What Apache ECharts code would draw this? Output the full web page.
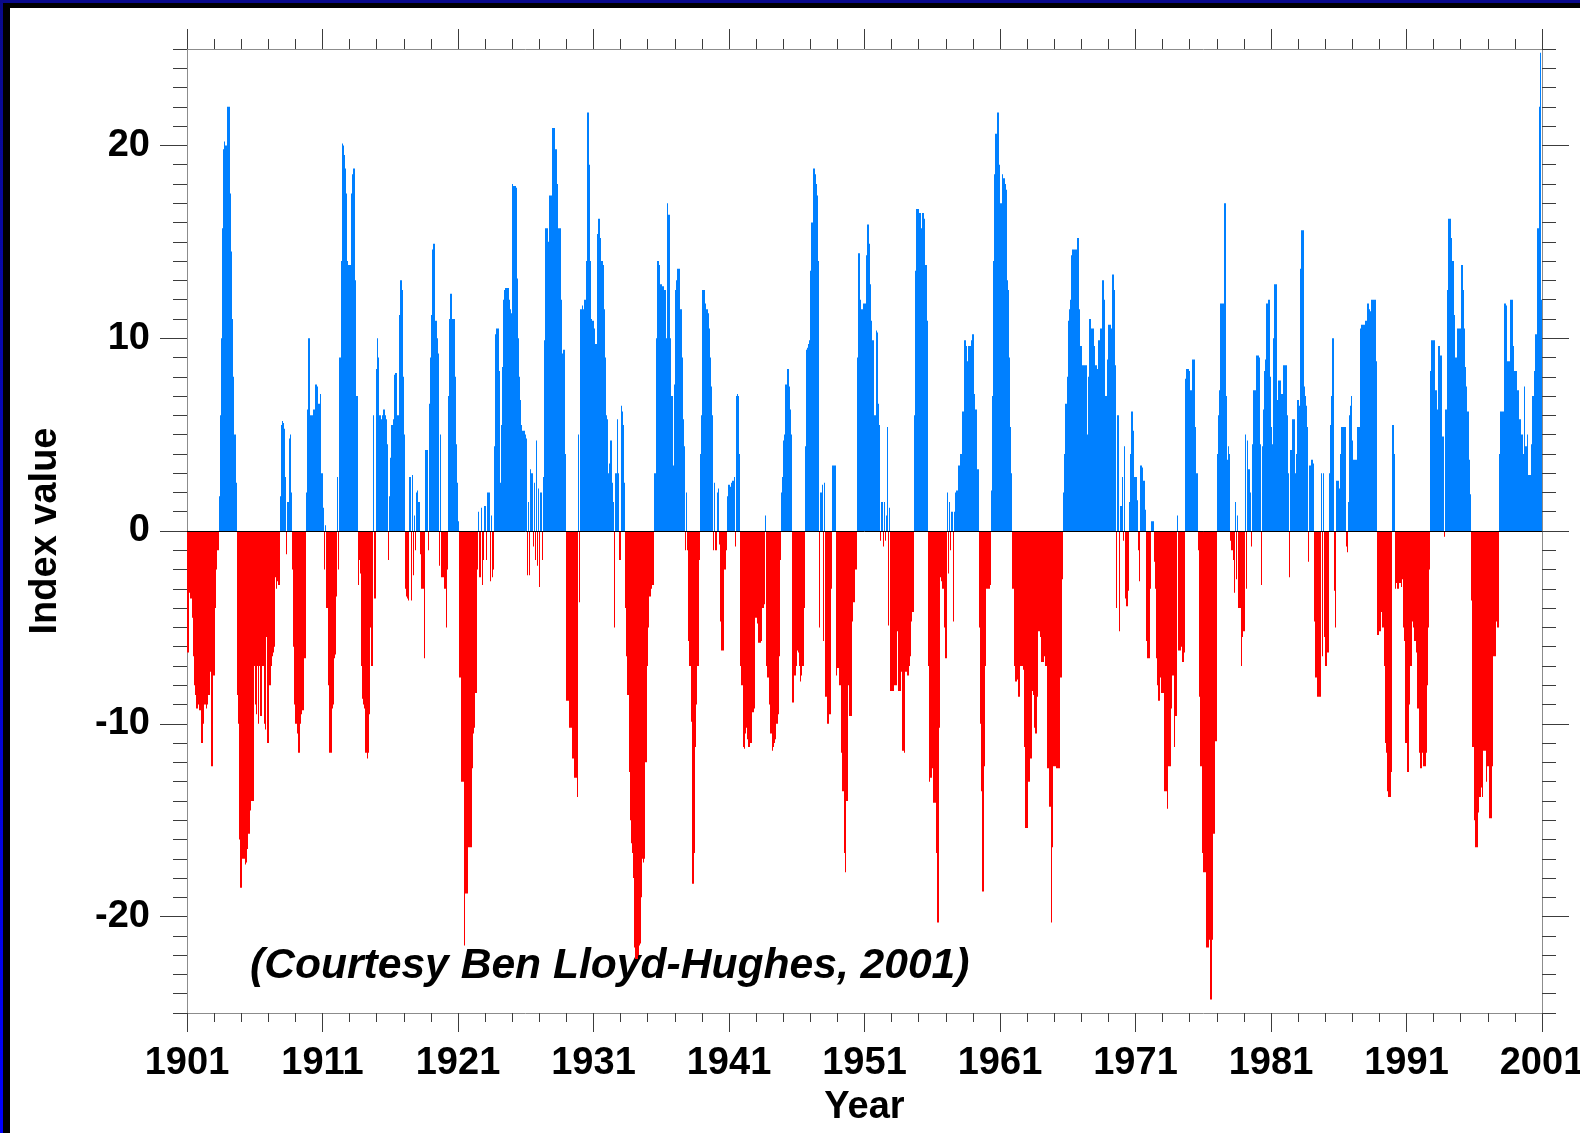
<!DOCTYPE html>
<html>
<head>
<meta charset="utf-8">
<title>Index value 1901-2000</title>
<script src="https://cdn.jsdelivr.net/npm/echarts@6/dist/echarts.min.js"></script>
<style>
  html, body { margin: 0; padding: 0; background: #fff; }
  #chart { width: 1580px; height: 1133px; }
</style>
</head>
<body>
<div id="chart"></div>
<script>
// Monthly index values, one row per year (Jan..Dec).
const v1901_1910 = [
  -6.3, -6.3, -3.2, -3.5, -4.5, -6.5, -8, -8.5, -9.2, -9.2, -9.0, -9.3,
  -11, -11, -10, -9, -9, -9.2, -9, -8.5, -7.3, -12.2, -12.2, -7.5,
  -7.5, -4, -2, -1, 1.8, 6, 10, 15.7, 19.8, 20.2, 20, 22,
  22, 22, 17.5, 14.5, 11, 8, 5, 2.5, -8.5, -10, -16, -18.5,
  -18.5, -17, -17, -17.3, -17.2, -16.5, -15.7, -15.7, -14.5, -14, -14, -7,
  -9, -9.5, -7, -10, -7, -9.6, -7, -7, -10, -10.3, -5.5, -11,
  -11, -8, -7, -6.5, -6.3, -6, -2.4, -3, -2.6, -2.8, 1.8, 5.5,
  5.7, 5.6, 5.3, 2.8, -1.2, 1.5, 4.8, 5, 2, -2, -6, -9,
  -10, -10.5, -11.5, -11.5, -10, -9.5, -9.3, -9.3, -6.6, 2, 6.3, 10,
  10, 6, 6, 6, 6.3, 7.6, 7.6, 7.5, 6.6, 6.6, 7.1, 3
];
const v1911_1920 = [
  1.2, -2, 0.3, -4, -4, -8, -11.5, -11.5, -9.2, -9, -6.6, -6.4,
  -3.4, 2.8, -2, 9, 14, 20.1, 20, 19.5, 18.8, 17.5, 14, 13.8,
  13.8, 17.5, 18.5, 18.8, 18.8, 13, 7, -2.8, -1.5, -2.2, -7, -8.7,
  -9, -9.2, -11.5, -11.8, -11.5, -9.5, -5, -7, -7, 6, -3.5, 8.4,
  10, 9, 6, 6, 5.8, 6, 6.3, 6, 5.8, 4.5, -1.5, 1.8,
  3.8, 5.5, 5.8, 8.1, 8.2, 8.2, 6, 6, 11.2, 13, 12.5, 8,
  5, -3, -3.4, -3.5, -3.6, 2.8, -3.6, 2.9, -2.3, 0.8, -1, 2,
  2.1, 1.5, -1.2, -3, -3, -3, -6.6, 4.2, 4.2, -1, 6.6, 9,
  11.2, 14.6, 14.9, 14.9, 10.9, 10, 9.2, -1.8, 5, -2.4, -2.4, -2.4,
  -3, -5, -2, 7, 11, 12.3, 12.3, 11, 11, 8, 4.5, 2.5
];
const v1921_1930 = [
  0.5, -7.6, -7.6, -13, -13, -21.5, -18.8, -18.8, -18.8, -16.4, -16.4, -16.4,
  -12.3, -10.5, -10.2, -8.4, -8.4, -2, 1, -2.4, 1.2, -2.8, -1.5, 1.3,
  1.3, -1.5, 2, 2, -2.6, 0.8, -2.4, -2, 4.4, 10.2, 10.5, 10.5,
  8.3, 2.5, 5.5, 8.5, 12, 12.5, 12.6, 12.6, 12.6, 12, 11.5, 11.3,
  18, 17.9, 17.9, 17.8, 13.1, 10, 8, 6.8, 5.5, 5.2, 5.2, 5,
  4.8, -2.3, 1.5, -2.3, 3.2, 3, -0.8, 2.5, -1.5, 4.7, -1.8, 2.2,
  -2.9, 2, -1.5, 2.8, 9.9, 15.7, 15.7, 15.7, 15, 17.4, 17.4, 20.9,
  20.9, 20.9, 19.8, 19.8, 18, 15.7, 15.7, 12, 9.2, 9.4, 9.4, 4,
  -8.8, -8.8, -10.2, -10.2, -10.2, -11.8, -11.8, -12.8, -12.8, -13.8, 5, -3.7,
  11.5, 11.5, 11.7, 11.5, 12, 14, 21.7, 21.7, 19, 14, 11, 10.9
];
const v1931_1940 = [
  10.5, 9.7, 9.7, 15.4, 16.2, 16.2, 15.2, 14, 13.8, 11.5, 9, 6,
  5.8, 3, 3.5, 4.7, 2.5, 1.5, -5, 3, 3, 5.8, 3, -1.5,
  6.5, 6.2, 5.5, 2.5, -4, -6.5, -8.5, -12.5, -15, -16.2, -16.7, -18,
  -21.6, -22.2, -22.2, -22, -21.5, -21.4, -19, -17, -17.2, -17, -12, -7,
  -5, -3.4, -3.4, -3, -2.8, -2.8, 3, 10, 14, 14, 13.8, 12.8,
  12.8, 12.7, 12.5, 12.5, 10, 17, 16.4, 16.4, 10, 7, 3.4, 7.6,
  12.5, 13, 13.6, 13.6, 13.6, 11.5, 9, 5.8, 4.4, -1, 2, -1,
  -5.7, -7, -9.9, -18.3, -18.3, -16.7, -11.2, -9, -7, -1.5, 4, 6,
  12.5, 12.5, 12.5, 11.8, 11.5, 11.3, 10.5, 9, 7.5, 6, -1, 2.5,
  -1, 2, 2.2, -0.7, -4.7, -6.2, -6.2, -6.2, -2, -1, 1.8, 2.4
];
const v1941_1950 = [
  2.4, 2.3, 2.5, 2.6, 2.8, -0.8, 7, 7.1, 7, 4, -7, -8,
  -11.2, -11.3, -10.5, -10.2, -10.8, -11.2, -11.2, -11, -9.4, -9.4, -9.2, -4.5,
  -4.5, -4.8, -5.8, -5.8, -5.7, -4, -4, -3.8, 0.8, -7, -7.6, -9,
  -10.5, -10.5, -11.4, -11.2, -11, -10.8, -10, -9.5, -6.5, -1.5, 2, 2.8,
  4.7, 5, 7.6, 8.4, 8.4, 7.5, 6.3, 5, -8.9, -8.9, -7.5, -7,
  -6.2, -6.3, -7, -7.8, -7.5, -7, -4, 4.4, 9.4, 9.5, 9.7, 9.9,
  13.5, 16, 18.8, 18.8, 18.5, 18, 17.4, 14, -5, 2, 2.4, -5.7,
  2.5, -8.6, -8.6, -10, -10, -9.5, -3, 3.4, 3.4, 3.4, 3.4, -7.5,
  -7.1, -8, -8, -11.5, -13.5, -13.5, -16.7, -17.7, -14, -8, -9.6, -9.6,
  -9.6, -4.7, -3.7, -3.7, -2, 9, 14.4, 14.4, 12, 11.5, 11.5, 11.8
];
const v1951_1960 = [
  11.8, 14.3, 15.9, 15.9, 14.9, 12.8, 10.9, 9.9, 6, 6, 10.4, 10.3,
  6.6, 5.5, -0.5, 1.5, -0.8, 1.5, -0.5, 0.8, 5.4, -4.9, 1.2, -8.3,
  -8.3, -8.3, -8, -8, -8, -5.2, -8.3, -8.3, -7.3, -11.4, -11.4, -11.5,
  -7.3, -7.3, -7.5, -7, -6.5, -4.7, -4.2, -4.2, 6, 13.5, 16.7, 16.7,
  16.5, 16.5, 15.7, 16.5, 16.5, 16.2, 13.8, 10.9, -7, -13, -12.8, -12.8,
  -12.3, -14.1, -14.1, -16.7, -20.3, -20.3, -10.2, -2.4, -2.6, -3, -5, -6.6,
  -6.6, 2, -2.2, 1.5, -1, 1, -4.7, 1, 2, 2.1, 2.1, 3.4,
  3.4, 4, 6.2, 6.2, 9.9, 9.9, 9.6, 8.8, 9.6, 9.6, 9.9, 10.2,
  10.2, 7.1, 6.3, 6.3, 3.2, -5, -10, -13.5, -18.7, -18.7, -12.2, -7,
  -3, -3, -3, -2.8, 2.1, 7, 14, 18.5, 20.6, 21.7, 21.7, 19
];
const v1961_1970 = [
  17, 17, 18.5, 18.3, 18, 17.7, 13, 12.5, 9, 5.4, 3, -3,
  -7, -7.8, -7.8, -7.7, -8.6, -8.6, -7, -7, -7.2, -11.2, -15.4, -15.4,
  -15.4, -13, -13, -11.8, -8.3, -8.5, -10.2, -10.5, -10.5, -8.6, -5.2, -5.5,
  -6.8, -6.8, -6.8, -6.5, -7, -7, -12.3, -14.3, -14.3, -20.3, -16.4, -12.2,
  -12.2, -12.2, -12.3, -12.3, -12.3, -7.6, -7.6, -2.5, 2, 4, 6.6, 8,
  10.9, 11.5, 12, 14.3, 14.6, 14.6, 14.6, 14.6, 15.2, 15.2, 11.5, 9.6,
  9.6, 8.6, 8.6, 8.6, 8.6, 5, 8, 11, 11, 10.5, 10.5, 9.6,
  8.6, 8.6, 8.4, 9.9, 9.9, 10.5, 13, 13, 12, 7, 7, 8.9,
  10.7, 10.7, 10.5, 13.3, 13.3, 12.5, 8.6, -4, 6, -5.2, 1.3, 1.3,
  2.8, -0.5, 4.4, -3.5, -3.9, -3.1, 1.5, 4, 6.2, 6.2, 5.2, 2.8
];
const v1971_1980 = [
  2.8, 1.6, -1, -2.6, 3.4, 3.4, 3.3, 2.6, 1.1, -5.7, -6.6, -6.6,
  -6.6, -3, 0.5, 0.5, -1.6, -3, -6.6, -8, -8.8, -8.8, -7.6, -8.4,
  -8.4, -13.5, -13.5, -13.5, -14.4, -12.2, -12.2, -9.2, -7.5, -7.5, -11.2, -9.6,
  -9.6, 0.8, -6.2, -6.2, -6, -6.8, -6.8, -6.3, 7.9, 8.4, 8.4, 8.3,
  7.3, 7.3, 8.9, 8.9, 8.9, 5.4, 3, -1, -8.6, -12.2, -12.2, -16.7,
  -17.7, -17.7, -21.6, -21.6, -21.6, -21.2, -24.3, -24.3, -21.2, -15.7, -10.9, -10.9,
  4, 6, 7.3, 11.8, 11.8, 11.8, 17, 17, 7, 3.7, 4.4, 4,
  -0.5, -1, -1.5, -3.2, 1.5, -2.5, 0.8, -4, -4, -7, -5.5, -5.2,
  -5.2, 5, -3, 4.7, 3.2, 2, -0.8, 4.5, 7.3, 7.3, 7.3, 9.1,
  9.1, 9, 4.5, -2.8, 4.4, 6.3, 8.3, 8.9, 11.8, 12, 12, 8
];
const v1981_1990 = [
  5.4, 4.5, 10, 12.8, 12.8, 6.8, 7.8, 7.8, 7.8, 7.1, 7.1, 8.6,
  8.6, 8.6, 6, 3, -2.4, 4.2, 4.2, 5.8, 5.8, 3, 4, 6.8,
  6.8, 6.5, 13.6, 15.6, 15.6, 7.5, 7, 6.5, 5.4, -1.6, 3.4, 3.7,
  3.7, 3.5, -4.7, -7.6, -7.6, -8.6, -8.6, -8.6, 3, -6.5, 3, -5.5,
  -7, -7, -6.3, 3, 5.5, 7, 10, 10, -3.1, -5, 2.6, 2.6,
  2.2, 4, 5.4, 5.4, 5.4, 5.4, -0.8, -1.1, 1.5, 6, 6.5, 7,
  4.7, 3.7, 3.7, 3.7, 5.4, 5.4, 5.4, 10.5, 10.7, 10.7, 10.7, 10.9,
  10.9, 11.8, 11.8, 11.5, 11.4, 12, 12, 12, 12, 8.8, -5.4, -5.4,
  -5.2, -4.2, -5, -5, -7, -11, -11.5, -13.5, -13.8, -13.8, -12.5, 5.5,
  5.5, 4, -3, -2.7, -3, -2.7, -2.7, -2.9, -2.5, -5, -5.7, -11
];
const v1991_2000 = [
  -12.5, -12.5, -9, -7, -7, -4.7, -5, -5.7, -6.3, -9.2, -9.2, -11.5,
  -12.3, -12.3, -11.5, -12.2, -12.2, -11.5, -8, -5, -2, 8.3, 9.9, 9.9,
  9.9, 7.3, 7.3, 6.3, 9.6, 9.6, 9.1, 4.9, 4.9, -0.3, 6.3, 6.3,
  12.5, 16.2, 16.2, 15.2, 14, 14, 11.2, 9, 9, 10.5, 10.5, 10.5,
  13.8, 13.8, 12.5, 10.5, 8.5, 7.5, 6.2, 3.7, 1.9, -3.6, -11.2, -11.2,
  -15, -16.4, -16.4, -14.6, -13.8, -13.8, -13.3, -13.8, -11.4, -11.4, -13, -12.2,
  -12.2, -14.9, -14.9, -14.9, -12.2, -6.5, -6.5, -4.7, -5, -5, 4, 6.2,
  6.2, 6.2, 11.8, 11.8, 11.7, 8.8, 8.8, 8.8, 12, 12, 9.6, 8.3,
  8.3, 8.3, 7.3, 7.3, 5.8, 5, 5, 4, 7.5, 4.4, 4.4, 5,
  2.9, 2.9, 4.5, 7, 7, 8.3, 10.2, 10.2, 15.7, 22, 24.8, 12
];

const firstYear = 1901;                 // x axis runs in years since Jan 1901
const yMajorValues = [-20, -10, 0, 10, 20];
const creditText = '(Courtesy Ben Lloyd-Hughes, 2001)';

const monthly = [].concat(v1901_1910, v1911_1920, v1921_1930, v1931_1940, v1941_1950,
                          v1951_1960, v1961_1970, v1971_1980, v1981_1990, v1991_2000);
// each month covers one twelfth of a year: [start, end, value]
const barData = monthly.map((v, i) => [i / 12, (i + 1) / 12, v]);

const FONT = 'Liberation Sans, Arial, Helvetica, sans-serif';
const labelStyle = { fontFamily: FONT, fontSize: 38, fontWeight: 'bold', color: '#000' };
const frameLine = { show: true, onZero: false, lineStyle: { color: '#8c8c8c', width: 1 } };
const tickLine = { color: '#3c3c3c', width: 1 };
const POS_COLOR = '#0080ff';
const NEG_COLOR = '#ff0000';

function xAxisDef(pos, showLabels, majorLen, minorLen) {
  return {
    type: 'value', position: pos, min: 0, max: 100, interval: 10,
    axisLine: frameLine,
    axisTick: { show: true, inside: false, length: majorLen, lineStyle: tickLine },
    minorTick: { show: true, splitNumber: 5, length: minorLen, lineStyle: tickLine },
    splitLine: { show: false }, minorSplitLine: { show: false },
    axisLabel: showLabels
      ? Object.assign({ show: true, margin: 32, formatter: v => String(firstYear + Math.round(v)) }, labelStyle)
      : { show: false }
  };
}
function yMajorDef(pos, showLabels) {
  return {
    type: 'value', position: pos, min: -25, max: 25, interval: 5,
    axisLine: frameLine,
    axisTick: { show: true, inside: false, length: 27, customValues: yMajorValues, lineStyle: tickLine },
    splitLine: { show: false },
    axisLabel: showLabels
      ? Object.assign({ show: true, margin: 37, customValues: yMajorValues }, labelStyle)
      : { show: false }
  };
}
function yMinorDef(pos) {
  return {
    type: 'value', position: pos, min: -25, max: 25, interval: 1,
    axisLine: { show: false, onZero: false },
    axisTick: { show: true, inside: false, length: 14, lineStyle: tickLine },
    splitLine: { show: false },
    axisLabel: { show: false }
  };
}

const bottomX = xAxisDef('bottom', true, 19, 9);
bottomX.name = 'Year';
bottomX.nameLocation = 'middle';
bottomX.nameGap = 76;
bottomX.nameTextStyle = Object.assign({}, labelStyle);

const leftY = yMajorDef('left', true);
leftY.name = 'Index value';
leftY.nameLocation = 'middle';
leftY.nameGap = 122;
leftY.nameTextStyle = Object.assign({}, labelStyle);

// one filled column per month, from the zero line to the month's value;
// column edges are snapped to whole pixels so neighbouring months tile without seams
function renderMonth(params, api) {
  const v = api.value(2);
  const a = api.coord([api.value(0), 0]);
  const b = api.coord([api.value(1), v]);
  const x0 = Math.round(Math.min(a[0], b[0]));
  const x1 = Math.round(Math.max(a[0], b[0]));
  const y = Math.min(a[1], b[1]);
  return {
    type: 'rect',
    shape: { x: x0, y: y, width: Math.max(1, x1 - x0), height: Math.abs(b[1] - a[1]) },
    style: { fill: v >= 0 ? POS_COLOR : NEG_COLOR }
  };
}

const chart = echarts.init(document.getElementById('chart'), null, { renderer: 'canvas' });
chart.setOption({
  animation: false,
  backgroundColor: '#ffffff',
  grid: { left: 187, top: 49, width: 1355, height: 964, containLabel: false, outerBoundsMode: 'none' },
  xAxis: [bottomX, xAxisDef('top', false, 20, 10)],
  yAxis: [leftY, yMinorDef('left'), yMajorDef('right', false), yMinorDef('right')],
  graphic: [
    // slide frame along the top and left edges
    { type: 'rect', shape: { x: 0, y: 0, width: 1580, height: 3 }, style: { fill: '#0a0a8c' }, silent: true },
    { type: 'rect', shape: { x: 3, y: 3, width: 1577, height: 5 }, style: { fill: '#000' }, silent: true },
    { type: 'rect', shape: { x: 0, y: 0, width: 3, height: 1133 },
      style: { fill: new echarts.graphic.LinearGradient(0, 0, 0, 1, [
        { offset: 0, color: '#0a0a8c' }, { offset: 1, color: '#0000ff' }]) }, silent: true },
    { type: 'rect', shape: { x: 3, y: 3, width: 7, height: 1130 }, style: { fill: '#000' }, silent: true },
    { type: 'text', left: 250, top: 945, silent: true,
      style: { text: creditText, font: 'italic bold 42.6px ' + FONT, fill: '#000' } }
  ],
  series: [{
    type: 'custom',
    xAxisIndex: 0, yAxisIndex: 0,
    data: barData,
    encode: { x: [0, 1], y: 2 },
    renderItem: renderMonth,
    clip: true,
    markLine: {
      silent: true, symbol: ['none', 'none'], label: { show: false },
      lineStyle: { color: '#000', width: 1, type: 'solid' },
      data: [{ yAxis: 0 }]
    }
  }]
});
</script>
</body>
</html>
